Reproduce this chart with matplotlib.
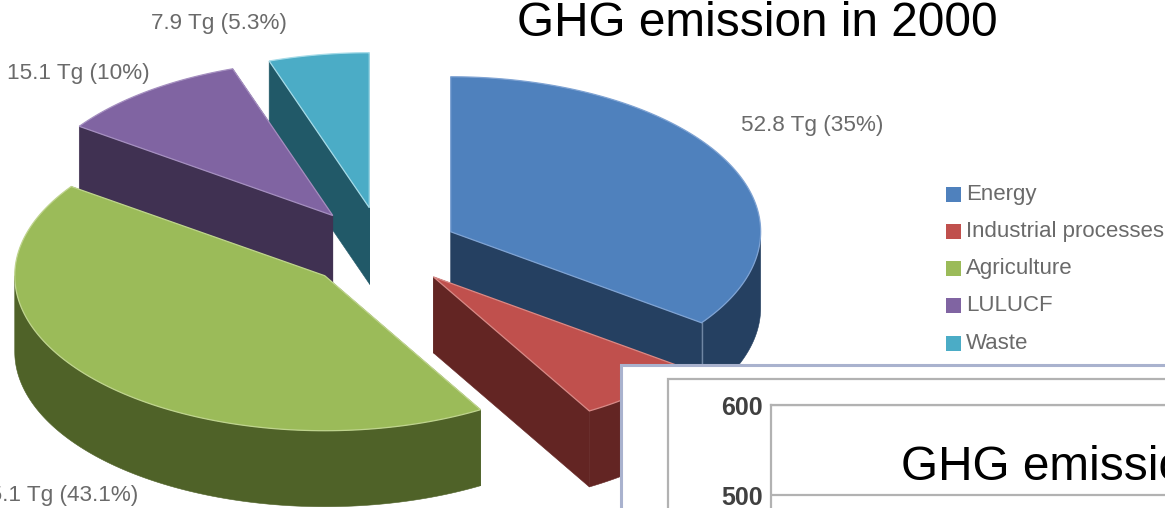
import numpy as np
import matplotlib
matplotlib.use("Agg")
import matplotlib.pyplot as plt
from matplotlib.patches import Polygon, Rectangle

plt.rcParams['font.family'] = ['Liberation Sans', 'DejaVu Sans']

# GHG emissions by sector, Tg
categories = ["Energy", "Industrial processes", "Agriculture", "LULUCF", "Waste"]
emissions = [52.8, 10.0, 65.1, 15.1, 7.9]
shares = [35, 6.6, 43.1, 10, 5.3]
slice_labels = ["52.8 Tg (35%)", None, "65.1 Tg (43.1%)", "15.1 Tg (10%)", "7.9 Tg (5.3%)"]
top_colors = ["#4F81BD", "#C0504D", "#9BBB59", "#8064A2", "#4BACC6"]
side_colors = ["#254061", "#632523", "#4F6228", "#403152", "#215968"]
edge_colors = ["#7FA3D3", "#D88A87", "#BFD48E", "#A58FC0", "#A5DBE8"]
explode = [0.245, 0.243, 0.255, 0.27, 0.27]
draw_order = [4, 3, 2, 0, 1]

inset_ticks = [500, 600]

W, H = 1165, 508
CX, CY = 383.0, 249.0   # pie centre
RX, RY = 310.0, 155.0   # projected radii
DEPTH = 76.0            # extrusion height
LABEL_GRAY = "#6A6A6A"

fig = plt.figure(figsize=(W / 100, H / 100), dpi=100, facecolor="white")
ax = fig.add_axes([0, 0, 1, 1])
ax.set_xlim(0, W)
ax.set_ylim(H, 0)
ax.axis("off")


def rim(a, b, ox, oy, dz=0.0, n=120):
    t = np.radians(np.linspace(a, b, n))
    return np.column_stack([ox + RX * np.sin(t), oy - RY * np.cos(t) + dz])


total = sum(emissions)
edges = np.concatenate([[0], np.cumsum(emissions)]) / total * 360.0

for z, i in enumerate(draw_order):
    a, b = edges[i], edges[i + 1]
    mid = np.radians((a + b) / 2)
    ox = CX + explode[i] * RX * np.sin(mid)
    oy = CY - explode[i] * RY * np.cos(mid)
    base = 2 + z * 2
    apex = np.array([[ox, oy]])

    # radial cut faces
    for ang in (a, b):
        p = rim(ang, ang, ox, oy, n=1)[0]
        quad = [(ox, oy), p, (p[0], p[1] + DEPTH), (ox, oy + DEPTH)]
        ax.add_patch(Polygon(quad, closed=True, fc=side_colors[i], ec=side_colors[i],
                             lw=0.4, zorder=base))

    # outer wall on the near half of the ellipse
    lo, hi = max(a, 90), min(b, 270)
    if lo < hi:
        wall = np.vstack([rim(lo, hi, ox, oy), rim(hi, lo, ox, oy, DEPTH)])
        ax.add_patch(Polygon(wall, closed=True, fc=side_colors[i], ec=side_colors[i],
                             lw=0.4, zorder=base))
        if i == 0:
            p = rim(b, b, ox, oy, n=1)[0]
            ax.plot([p[0], p[0]], [p[1], p[1] + DEPTH], color="#6F86A3", lw=1.0,
                    zorder=base + 0.5)

    # top face
    top = np.vstack([apex, rim(a, b, ox, oy), apex])
    ax.add_patch(Polygon(top, closed=True, fc=top_colors[i], ec=edge_colors[i],
                         lw=0.9, zorder=base + 1))

# slice annotations
LABEL_SIZE = 16.2
ax.text(741, 125, slice_labels[0], fontsize=LABEL_SIZE, color=LABEL_GRAY, ha="left", va="center", zorder=20)
ax.text(138, 496, slice_labels[2], fontsize=LABEL_SIZE, color=LABEL_GRAY, ha="right", va="center", zorder=20)
ax.text(150, 74, slice_labels[3], fontsize=LABEL_SIZE, color=LABEL_GRAY, ha="right", va="center", zorder=20)
ax.text(287, 24, slice_labels[4], fontsize=LABEL_SIZE, color=LABEL_GRAY, ha="right", va="center", zorder=20)

# legend column
legend_rows = [194, 231, 268, 305, 343]
for name, color, y in zip(categories, top_colors, legend_rows):
    ax.add_patch(Rectangle((946, y - 7.5), 15, 15, fc=color, ec="none", zorder=20))
    ax.text(966, y + 0.5, name, fontsize=16, color=LABEL_GRAY, ha="left", va="center", zorder=20)

ax.text(757.5, 23, "GHG emission in 2000", fontsize=34.4, color="black",
        ha="center", va="center", zorder=20)

# overlapping panel with the second chart
ax.add_patch(Rectangle((621, 365), 700, 300, fc="white", ec="#A9B2CE", lw=2.2, zorder=30))
ax.add_patch(Rectangle((668, 379), 700, 300, fc="white", ec="#B2B2B2", lw=1.6, zorder=31))

PLOT_L, PLOT_T = 771, 405
PX_PER_UNIT = 0.9
inset = fig.add_axes([PLOT_L / W, 0, (W - PLOT_L) / W, (H - PLOT_T) / H], zorder=5)
inset.patch.set_alpha(0)
inset.set_ylim(600 - (H - PLOT_T) / PX_PER_UNIT, 600)
inset.set_xlim(0, 1)
inset.set_xticks([])
inset.set_yticks(inset_ticks)
inset.tick_params(axis="y", length=0, pad=6, labelsize=18, labelcolor="#404040")
for lab in inset.get_yticklabels():
    lab.set_fontweight("bold")
inset.grid(axis="y", color="#B2B2B2", lw=1.6)
inset.set_axisbelow(True)
for side in ("right", "bottom"):
    inset.spines[side].set_visible(False)
for side in ("left", "top"):
    inset.spines[side].set_color("#B2B2B2")
    inset.spines[side].set_linewidth(1.6)
inset.text(901, 468, "GHG emission in 2000", fontsize=34.4, color="black",
           ha="left", va="center", transform=ax.transData, zorder=40)

fig.savefig("out.png", dpi=100)
